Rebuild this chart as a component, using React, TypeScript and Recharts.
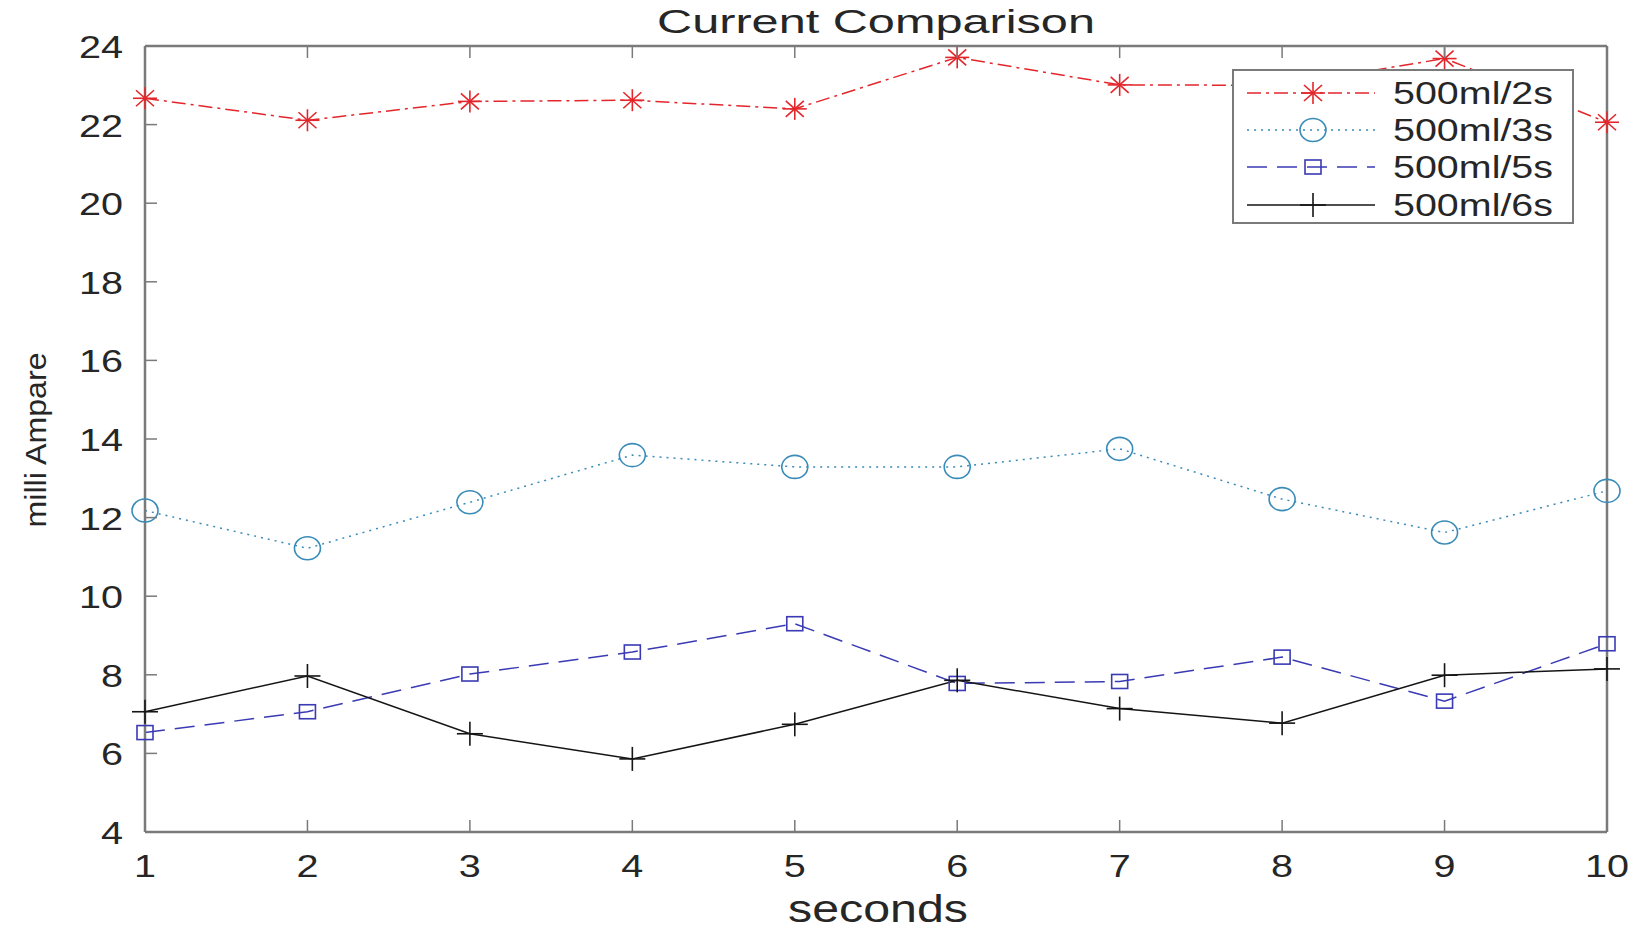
import React from 'react'
import { LineChart, Line, XAxis, YAxis } from 'recharts'

const SECONDS = [1, 2, 3, 4, 5, 6, 7, 8, 9, 10]
const CUR_2S = [22.67, 22.11, 22.59, 22.62, 22.4, 23.71, 23.01, 23.0, 23.68, 22.06]
const CUR_3S = [12.18, 11.22, 12.39, 13.59, 13.29, 13.29, 13.75, 12.47, 11.62, 12.68]
const CUR_5S = [6.53, 7.06, 8.02, 8.58, 9.3, 7.78, 7.83, 8.45, 7.33, 8.79]
const CUR_6S = [7.06, 7.97, 6.5, 5.86, 6.74, 7.86, 7.14, 6.77, 7.99, 8.15]
const Y_TICKS = [4, 6, 8, 10, 12, 14, 16, 18, 20, 22, 24]
const SERIES_NAMES = ['500ml/2s', '500ml/3s', '500ml/5s', '500ml/6s']

const data = SECONDS.map((s, i) => ({
  s,
  a: CUR_2S[i],
  b: CUR_3S[i],
  c: CUR_5S[i],
  d: CUR_6S[i],
}))

const FONT = '"Liberation Sans", Arial, Helvetica, sans-serif'
const AXIS = '#7a7a7a'
const TEXT = '#262626'
const RED = '#e3262b'
const TEAL = '#3a8cb8'
const BLUE = '#3a3ab4'
const BLACK = '#151515'

const W = 1643
const H = 929
// axes below take 1px each, so plot box ends up at x 145..1607, y 46..832
const M = { top: 45, right: 35, bottom: 96, left: 144 }

// marker shapes, roughly matching MATLAB's *, o, s, +
function Star({ cx, cy, color }: { cx: number; cy: number; color: string }) {
  return (
    <g stroke={color} strokeWidth={1.6}>
      <line x1={cx - 12} y1={cy} x2={cx + 12} y2={cy} />
      <line x1={cx} y1={cy - 11} x2={cx} y2={cy + 11} />
      <line x1={cx - 9} y1={cy - 8} x2={cx + 9} y2={cy + 8} />
      <line x1={cx - 9} y1={cy + 8} x2={cx + 9} y2={cy - 8} />
    </g>
  )
}

function Ring({ cx, cy, color }: { cx: number; cy: number; color: string }) {
  return <ellipse cx={cx} cy={cy} rx={13} ry={11.5} fill="none" stroke={color} strokeWidth={1.6} />
}

function Square({ cx, cy, color }: { cx: number; cy: number; color: string }) {
  return <rect x={cx - 8} y={cy - 7} width={16} height={14} fill="none" stroke={color} strokeWidth={1.6} />
}

function Plus({ cx, cy, color }: { cx: number; cy: number; color: string }) {
  return (
    <g stroke={color} strokeWidth={1.6}>
      <line x1={cx - 13} y1={cy} x2={cx + 13} y2={cy} />
      <line x1={cx} y1={cy - 12} x2={cx} y2={cy + 12} />
    </g>
  )
}

const SERIES = [
  { key: 'a', color: RED, dash: '14 5 3 5', Marker: Star },
  { key: 'b', color: TEAL, dash: '2 5', Marker: Ring },
  { key: 'c', color: BLUE, dash: '20 10', Marker: Square },
  { key: 'd', color: BLACK, dash: undefined, Marker: Plus },
]

const BottomTick = (props: any) => {
  const { x, y, payload } = props
  const label = String(payload.value)
  return (
    <g>
      <line x1={x} y1={y} x2={x} y2={y - 12} stroke={AXIS} strokeWidth={1.5} />
      <text x={x} y={y + 45} textAnchor="middle" fontFamily={FONT} fontSize={32} fill={TEXT}
        textLength={22 * label.length} lengthAdjust="spacingAndGlyphs">
        {label}
      </text>
    </g>
  )
}

const LeftTick = (props: any) => {
  const { x, y, payload } = props
  const label = String(payload.value)
  return (
    <g>
      <line x1={x} y1={y} x2={x + 12} y2={y} stroke={AXIS} strokeWidth={1.5} />
      <text x={x - 22} y={y + 12} textAnchor="end" fontFamily={FONT} fontSize={32} fill={TEXT}
        textLength={22 * label.length} lengthAdjust="spacingAndGlyphs">
        {label}
      </text>
    </g>
  )
}

const TopTick = (props: any) => {
  const { x, y } = props
  return <line x1={x} y1={y} x2={x} y2={y + 12} stroke={AXIS} strokeWidth={1.5} />
}

const RightTick = (props: any) => {
  const { x, y } = props
  return <line x1={x} y1={y} x2={x - 12} y2={y} stroke={AXIS} strokeWidth={1.5} />
}

function Overlay() {
  const rows = [93, 130, 167, 205]
  return (
    <svg width={W} height={H} style={{ position: 'absolute', left: 0, top: 0, pointerEvents: 'none' }}>
      <text x={876} y={33} textAnchor="middle" fontFamily={FONT} fontSize={33} fill={TEXT}
        textLength={438} lengthAdjust="spacingAndGlyphs">
        Current Comparison
      </text>
      <text x={878} y={922} textAnchor="middle" fontFamily={FONT} fontSize={38} fill={TEXT}
        textLength={180} lengthAdjust="spacingAndGlyphs">
        seconds
      </text>
      <text transform="translate(46,440) rotate(-90)" textAnchor="middle" fontFamily={FONT} fontSize={30}
        fill={TEXT} textLength={175} lengthAdjust="spacingAndGlyphs">
        milli Ampare
      </text>

      <rect x={1233} y={70} width={340} height={153} fill="#fff" stroke={AXIS} strokeWidth={2} />
      {SERIES.map((s, i) => (
        <g key={s.key}>
          <line x1={1247} y1={rows[i]} x2={1375} y2={rows[i]} stroke={s.color} strokeWidth={1.5}
            strokeDasharray={s.dash} />
          <s.Marker cx={1313} cy={rows[i]} color={s.color} />
          <text x={1393} y={rows[i] + 11} fontFamily={FONT} fontSize={31} fill={TEXT}
            textLength={160} lengthAdjust="spacingAndGlyphs">
            {SERIES_NAMES[i]}
          </text>
        </g>
      ))}
    </svg>
  )
}

export default function App() {
  return (
    <div style={{ position: 'relative', width: W, height: H, background: '#fff' }}>
      <style>{'body{margin:0}'}</style>
      <LineChart width={W} height={H} data={data} margin={M}>
        <XAxis xAxisId="bottom" dataKey="s" type="number" domain={[1, 10]} ticks={SECONDS}
          orientation="bottom" height={1} tickSize={0} tickMargin={0} tickLine={false}
          axisLine={{ stroke: AXIS, strokeWidth: 2.5 }} tick={<BottomTick />} interval={0} />
        <XAxis xAxisId="top" dataKey="s" type="number" domain={[1, 10]} ticks={SECONDS}
          orientation="top" height={1} tickSize={0} tickMargin={0} tickLine={false}
          axisLine={{ stroke: AXIS, strokeWidth: 2.5 }} tick={<TopTick />} interval={0} />
        <YAxis yAxisId="left" type="number" domain={[4, 24]} ticks={Y_TICKS} orientation="left"
          width={1} tickSize={0} tickMargin={0} tickLine={false}
          axisLine={{ stroke: AXIS, strokeWidth: 2.5 }} tick={<LeftTick />} interval={0} />
        <YAxis yAxisId="right" type="number" domain={[4, 24]} ticks={Y_TICKS} orientation="right"
          width={1} tickSize={0} tickMargin={0} tickLine={false}
          axisLine={{ stroke: AXIS, strokeWidth: 2.5 }} tick={<RightTick />} interval={0} />
        {SERIES.map((s, i) => (
          <Line
            key={s.key}
            xAxisId="bottom"
            yAxisId="left"
            type="linear"
            dataKey={s.key}
            name={SERIES_NAMES[i]}
            stroke={s.color}
            strokeWidth={1.5}
            strokeDasharray={s.dash}
            isAnimationActive={false}
            dot={(p: any) => <s.Marker key={`${s.key}-${p.index}`} cx={p.cx} cy={p.cy} color={s.color} />}
            activeDot={false}
          />
        ))}
      </LineChart>
      <Overlay />
    </div>
  )
}
